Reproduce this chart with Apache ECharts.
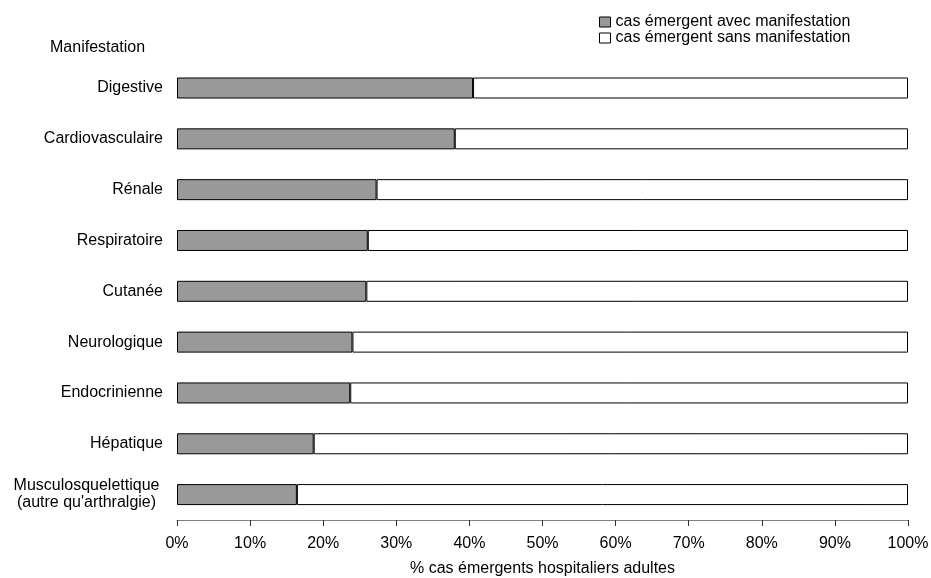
<!DOCTYPE html>
<html><head><meta charset="utf-8">
<script src="https://cdn.jsdelivr.net/npm/echarts@6/dist/echarts.min.js"></script>
<style>html,body{margin:0;padding:0;background:#fff}#c{width:931px;height:578px}</style>
</head><body><div id="c"></div>
<script>
const categories = ["Digestive","Cardiovasculaire","Rénale","Respiratoire","Cutanée","Neurologique","Endocrinienne","Hépatique","Musculosquelettique\n(autre qu'arthralgie)"];
const avecManifestation = [40.5, 38.0, 27.3, 26.1, 25.9, 24.0, 23.7, 18.7, 16.4];
const sansManifestation = avecManifestation.map(v => +(100 - v).toFixed(1));
const seriesNames = ["cas émergent avec manifestation", "cas émergent sans manifestation"];
const xTickLabels = ["0%","10%","20%","30%","40%","50%","60%","70%","80%","90%","100%"];

const FONT = "'Liberation Sans', Arial, sans-serif";
const chart = echarts.init(document.getElementById('c'), null, {renderer:'canvas'});
chart.setOption({
  animation: false,
  backgroundColor: '#fff',
  textStyle: {fontFamily: FONT, color: '#000'},
  title: {text: 'Manifestation', left: 45, top: 35,
    textStyle: {fontFamily: FONT, fontSize: 16, fontWeight: 'normal', color: '#000'}},
  legend: {
    orient: 'vertical', left: 599, top: 14, itemGap: 0,
    itemWidth: 11, itemHeight: 10, padding: 0, icon: 'rect',
    itemStyle: {borderColor: '#000', borderWidth: 1},
    textStyle: {fontFamily: FONT, fontSize: 16, color: '#000', padding: [0,0,0,0], lineHeight: 15.5},
    data: seriesNames.map(n => ({name: n}))
  },
  grid: {left: 177, right: 23, top: 62.6, bottom: 58, containLabel: false, outerBoundsMode: 'none'},
  xAxis: {
    type: 'value', min: 0, max: 100, interval: 10,
    axisLine: {show: true, lineStyle: {color: '#808080', width: 1}},
    axisTick: {show: true, length: 6, lineStyle: {color: '#333'}},
    splitLine: {show: false},
    axisLabel: {fontFamily: FONT, fontSize: 16, color: '#000', margin: 16,
      formatter: (v) => xTickLabels[Math.round(v / 10)]},
    name: '% cas émergents hospitaliers adultes', nameLocation: 'middle', nameGap: 41,
    nameTextStyle: {fontFamily: FONT, fontSize: 16, color: '#000'}
  },
  yAxis: {
    type: 'category', inverse: true,
    data: categories.map((c, i) => i === categories.length - 1
      ? {value: c, textStyle: {align: 'center', padding: [0, 153, 0, 0], lineHeight: 17}}
      : c),
    axisLine: {show: false}, axisTick: {show: false},
    axisLabel: {fontFamily: FONT, fontSize: 16, color: '#000', margin: 14, lineHeight: 17}
  },
  series: [
    {name: seriesNames[0], type: 'bar', stack: 'tot', data: avecManifestation, barWidth: 21,
      itemStyle: {color: '#999999', borderColor: '#000', borderWidth: 1}},
    {name: seriesNames[1], type: 'bar', stack: 'tot', data: sansManifestation, barWidth: 21,
      itemStyle: {color: '#ffffff', borderColor: '#000', borderWidth: 1}}
  ]
});
</script></body></html>
